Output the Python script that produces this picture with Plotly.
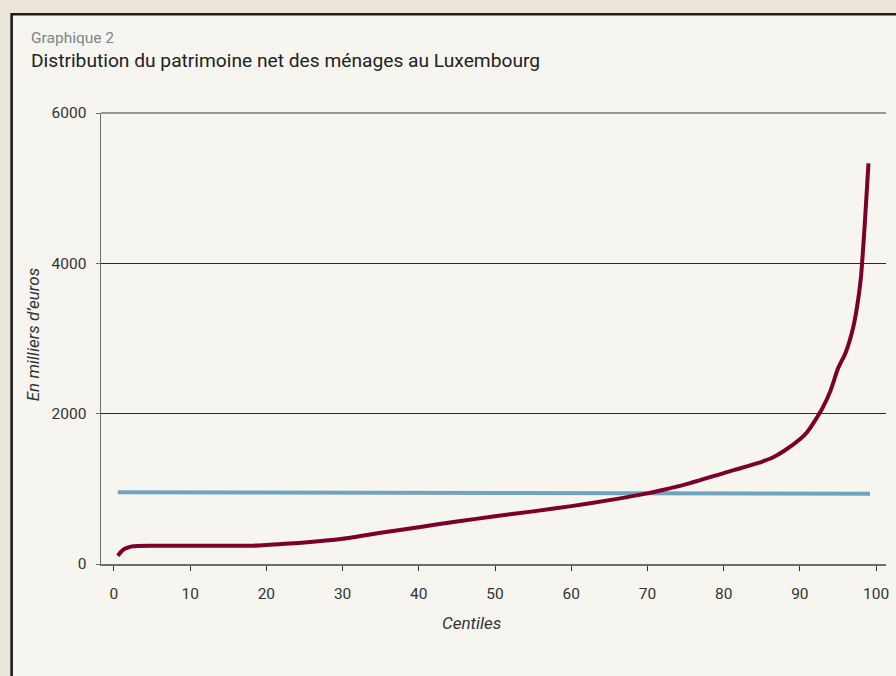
import plotly.graph_objects as go

# Data
centiles_red = [0.5, 1, 1.5, 2, 2.5, 3, 5, 10, 15, 18, 20, 25, 30, 35, 40, 45, 50, 55, 60, 65,
                70, 72, 75, 80, 85, 86.5, 88, 90, 91, 92, 93, 94, 95, 96, 97, 97.5, 98, 98.5, 99]
patrimoine = [110, 170, 205, 225, 235, 240, 242, 242, 242, 243, 253, 285, 335, 415, 490, 565, 635, 700, 770, 850,
              940, 985, 1060, 1210, 1360, 1420, 1510, 1660, 1760, 1910, 2080, 2300, 2600, 2810, 3150, 3420, 3800, 4500, 5330]

centiles_blue = [0.5, 25, 50, 75, 99.2]
moyenne = [955, 950, 945, 940, 935]

x_ticks = [0, 10, 20, 30, 40, 50, 60, 70, 80, 90, 100]
y_ticks = [0, 2000, 4000, 6000]

W, H = 896, 676
ml, mr, mt, mb = 101, 7, 113, 112
pw, ph = W - ml - mr, H - mt - mb

def px_x(p):
    return (p - ml) / pw

def px_y(p):
    return (H - mb - p) / ph

FONT = "Roboto"

fig = go.Figure()
fig.add_trace(go.Scatter(x=centiles_blue, y=moyenne, mode="lines",
                         line=dict(color="#6fa3c2", width=4), hoverinfo="skip"))
fig.add_trace(go.Scatter(x=centiles_red, y=patrimoine, mode="lines",
                         line=dict(color="#7c0027", width=4, shape="spline", smoothing=0.6),
                         hoverinfo="skip"))

fig.update_layout(
    width=W, height=H,
    margin=dict(l=ml, r=mr, t=mt, b=mb),
    paper_bgcolor="#ebe4d8",
    plot_bgcolor="#f7f5f0",
    showlegend=False,
    font=dict(family=FONT, color="#333333", size=16),
    shapes=[dict(type="rect", xref="paper", yref="paper", layer="below",
                 x0=px_x(11.3), x1=px_x(W + 20), y0=px_y(H + 20), y1=px_y(14.3),
                 fillcolor="#f7f5f0", line=dict(color="#1e1e1e", width=2.6))],
    annotations=[
        dict(text="Graphique 2", xref="paper", yref="paper", x=px_x(29), y=px_y(38),
             xanchor="left", yanchor="middle", showarrow=False,
             font=dict(family=FONT, size=15.5, color="#7b858c")),
        dict(text="Distribution du patrimoine net des ménages au Luxembourg", xref="paper", yref="paper",
             x=px_x(29), y=px_y(60), xanchor="left", yanchor="middle", showarrow=False,
             font=dict(family=FONT, size=19.2, color="#222222")),
        dict(text="<i>En milliers d’euros</i>", xref="paper", yref="paper", x=px_x(33), y=px_y(335),
             xanchor="center", yanchor="middle", showarrow=False, textangle=-90,
             font=dict(family=FONT, size=17, color="#333333")),
        dict(text="<i>Centiles</i>", xref="paper", yref="paper", x=px_x(473), y=px_y(623),
             xanchor="center", yanchor="middle", showarrow=False,
             font=dict(family=FONT, size=17, color="#333333")),
    ],
)

fig.update_xaxes(range=[-1.7, 101.3], tickvals=x_ticks, ticktext=[str(t) for t in x_ticks],
                 showgrid=False, zeroline=False, showline=True, linecolor="#6e6e6e", linewidth=1.5,
                 ticks="outside", ticklen=5, tickcolor="#333333", tickwidth=1,
                 ticklabelstandoff=10, tickfont=dict(size=15.5, color="#333333"))
fig.update_yaxes(range=[0, 6000], tickvals=y_ticks, ticktext=[str(t) for t in y_ticks],
                 showgrid=True, gridcolor="#2a2a2a", gridwidth=1, zeroline=False,
                 showline=True, linecolor="#6e6e6e", linewidth=1.5,
                 ticks="outside", ticklen=4, tickcolor="#6e6e6e", tickwidth=1,
                 ticklabelstandoff=6, tickfont=dict(size=15.5, color="#333333"))

fig.add_shape(type="line", xref="paper", yref="paper", x0=0, x1=1, y0=1, y1=1,
              line=dict(color="#777777", width=1.5))

fig.write_html("out.html",
               config={"displayModeBar": False, "staticPlot": True},
               post_script="document.body.style.margin='0';document.body.style.padding='0';"
                           "document.body.style.overflow='hidden';")
